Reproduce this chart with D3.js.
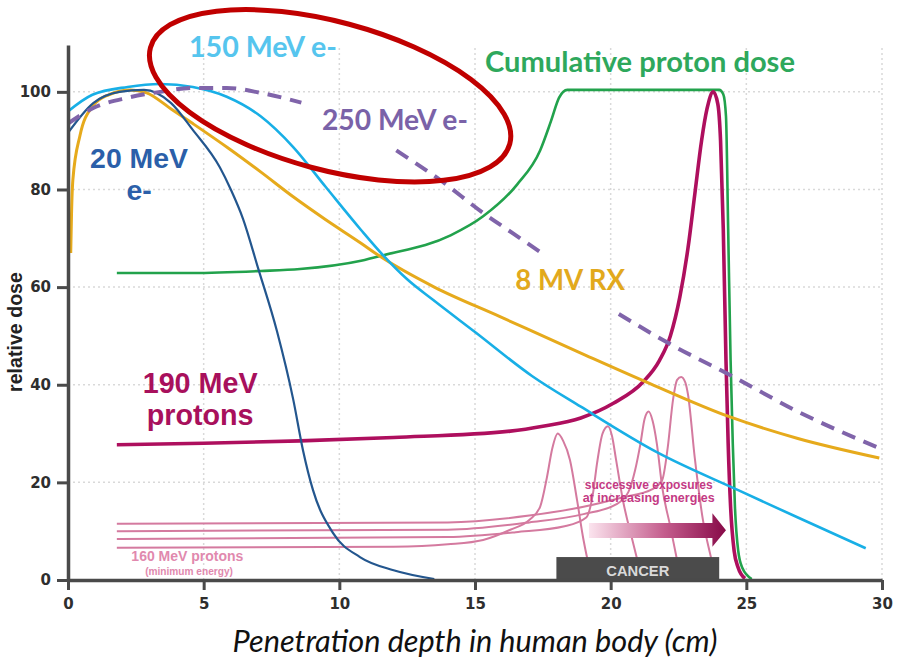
<!DOCTYPE html>
<html>
<head>
<meta charset="utf-8">
<script src="https://d3js.org/d3.v7.min.js"></script>
<style>
  body { margin: 0; background: #fff; }
  svg { display: block; }
</style>
</head>
<body>
<svg id="chart" width="897" height="659"></svg>
<script>
// Axis ticks
var xTicks = [0, 5, 10, 15, 20, 25, 30];
var yTicks = [0, 20, 40, 60, 80, 100];

// Depth-dose curves, [depth (cm), relative dose]
var electrons20 = [[0, 91.6], [0.93, 97.7], [1.9, 100], [2.8, 100.4], [3.8, 97.7], [4.6, 92.2], [5.6, 84.5],
  [6, 80], [6.45, 74], [7, 64], [7.7, 51], [8.3, 37], [8.66, 26.6], [9.03, 18.4], [9.77, 9.6], [10.76, 4.7],
  [12, 2], [13.5, 0.2]];

var electrons150 = [[0, 96], [0.9, 99.4], [2.2, 101], [3.4, 101.6], [4.6, 101], [5.85, 99], [7.1, 95],
  [8.3, 88.7], [9.5, 80.5], [10.8, 71.7], [11.6, 66.6], [12.5, 61.6], [13.45, 57.4], [15, 50.8], [17.1, 41.8],
  [18.9, 35.5], [21.7, 26.2], [24.7, 18.4], [26.9, 12.8], [29.4, 6.5]];

// null = break in the dashed line (hidden behind the labels)
var electrons250 = [[0, 93.5], [0.93, 96.7], [2.2, 98.8], [3.4, 100], [4.6, 100.8], [5.85, 100.8], [7.1, 99.8],
  [8.6, 97.8], null,
  [12.1, 88], [13.7, 82], [15.3, 75.2], [16.4, 71], [17.4, 67.2], null,
  [20.3, 54.5], [22.3, 48], [24.4, 42], [26.9, 34.5], [29.9, 27]];

var xray8 = [[0.1, 67], [0.13, 75], [0.18, 82], [0.44, 91], [0.9, 97], [1.5, 99.4], [2.3, 100.4], [2.9, 99.8],
  [3.8, 96.5], [4.6, 93.5], [5.9, 88.5], [7.1, 83.6], [8.3, 78.5], [9.5, 73.8], [10.8, 69], [11.5, 66.3],
  [13.5, 60], [15.9, 54], [18.9, 46.5], [21.3, 40.6], [24.4, 33.4], [26.9, 29], [29.9, 25]];

var protons190 = [[1.8, 27.7], [5, 28], [8.55, 28.5], [12, 29.2], [16.3, 30.5], [17.5, 31.5], [18.9, 33.2],
  [20.1, 36.2], [21.2, 40.6], [21.8, 45], [22.2, 50], [22.55, 58], [22.85, 68], [23.1, 79], [23.35, 90],
  [23.55, 96.5], [23.78, 100], [23.95, 97.5], [24.05, 90], [24.15, 72], [24.25, 45], [24.33, 28],
  [24.42, 15], [24.55, 6], [24.7, 2.5], [24.95, 0.3]];

var cumulative = [[1.8, 62.9], [4.6, 62.9], [7.1, 63.3], [8.55, 63.7], [10.8, 65.4], [11.6, 66.5], [14.1, 70.6],
  [15.3, 74.5], [16.55, 81], [17.4, 88], [17.8, 94], [18.1, 98.8], [18.4, 100.4], [24, 100.4], [24.15, 99.5],
  [24.25, 95], [24.33, 72], [24.42, 45], [24.5, 28], [24.58, 15], [24.7, 6], [24.85, 2.5], [25.2, 0.2]];

// Successive proton exposures (160 MeV minimum energy and up)
var exposure1 = [[1.8, 6.6], [12, 6.8], [14, 7.3], [15.3, 8.2], [16.3, 10.3], [17, 12.3], [17.4, 15], [17.65, 21],
  [17.85, 27], [18.05, 30], [18.25, 28.5], [18.5, 24.6], [18.76, 16.4], [19, 8.2], [19.2, 3], [19.4, 0]];
var exposure2 = [[1.8, 8.4], [14, 8.8], [16.5, 9.8], [18.3, 11], [19.1, 12.8], [19.35, 17.8], [19.5, 24],
  [19.7, 30], [19.9, 31.5], [20.05, 29.5], [20.2, 24.6], [20.45, 16.4], [20.8, 8.2], [21.1, 2], [21.3, 0]];
var exposure3 = [[1.8, 10], [14, 10.3], [17, 11.8], [19, 13.5], [20.2, 15.5], [20.65, 18], [20.9, 22.5],
  [21.1, 28], [21.25, 33], [21.4, 34.5], [21.55, 32.5], [21.7, 28], [21.9, 19], [22.2, 10.9], [22.45, 4],
  [22.6, 0]];
var exposure4 = [[1.8, 11.5], [14, 11.8], [17, 13.2], [19, 15], [20.5, 17], [21.5, 18.5], [21.9, 20.5],
  [22.1, 27], [22.3, 37], [22.45, 41], [22.6, 41.6], [22.75, 40.5], [22.85, 38], [23.1, 25], [23.4, 12.3],
  [23.66, 5.5], [23.9, 0]];

// Tumour region (cm) and arrow outline (cm, dose units)
var cancerRange = [18, 24];
var cancerHeight = 4.7;
var arrowOutline = [[19.2, 8.6], [23.75, 8.6], [23.75, 6.8], [24.25, 10.2], [23.75, 13.7], [23.75, 11.7], [19.2, 11.7]];

// Texts
var seriesLabels = ["150 MeV e-", "250 MeV e-", "Cumulative proton dose", "8 MV RX"];
var twoLineLabels = [["20 MeV", "e-"], ["190 MeV", "protons"]];
var noteLines = ["160 MeV protons", "(minimum energy)", "successive exposures", "at increasing energies", "CANCER"];
var xTitle = "Penetration depth in human body (cm)";
var yTitle = "relative dose";

// ---- layout ----
var svg = d3.select("#chart");
var yTop = 109.6;
var x = d3.scaleLinear().domain([0, 30]).range([68, 882]);
var y = d3.scaleLinear().domain([0, yTop]).range([580, 45]);

var sans = "'Liberation Sans', Arial, sans-serif";
var calibri = "Lato, 'Open Sans', sans-serif";

function fit(t, w) {
  var len = t.node().getComputedTextLength();
  var fs = parseFloat(t.attr("font-size"));
  t.attr("font-size", (fs * w / len).toFixed(2));
}

// grid
var grid = svg.append("g").attr("class", "grid")
  .attr("stroke", "#d9d9d9").attr("stroke-width", 1.5).attr("stroke-dasharray", "2,3");
grid.selectAll(".gx").data(xTicks.slice(1)).enter().append("line")
  .attr("x1", d => x(d)).attr("x2", d => x(d)).attr("y1", y(0)).attr("y2", y(yTop));
grid.selectAll(".gy").data(yTicks.slice(1)).enter().append("line")
  .attr("x1", x(0)).attr("x2", x(30)).attr("y1", d => y(d)).attr("y2", d => y(d));

var line = d3.line()
  .defined(d => d !== null)
  .x(d => x(d[0]))
  .y(d => y(d[1]))
  .curve(d3.curveMonotoneX);

// successive exposures (thin pink)
svg.append("g").selectAll("path")
  .data([exposure1, exposure2, exposure3, exposure4])
  .enter().append("path")
  .attr("d", line)
  .attr("fill", "none")
  .attr("stroke", "#d47a9f")
  .attr("stroke-width", 2);

// cancer box
svg.append("rect")
  .attr("x", x(cancerRange[0]))
  .attr("y", y(cancerHeight))
  .attr("width", x(cancerRange[1]) - x(cancerRange[0]))
  .attr("height", y(0) - y(cancerHeight))
  .attr("fill", "#4b4b4b");
var cancerText = svg.append("text")
  .attr("x", x((cancerRange[0] + cancerRange[1]) / 2))
  .attr("y", y(0.8))
  .attr("text-anchor", "middle")
  .attr("font-family", sans).attr("font-weight", "bold").attr("font-size", 13)
  .attr("fill", "#d9d9d9")
  .text(noteLines[4]);
fit(cancerText, 63);

// arrow with gradient
var defs = svg.append("defs");
var grad = defs.append("linearGradient").attr("id", "arrowGrad")
  .attr("x1", "0%").attr("x2", "100%").attr("y1", "0%").attr("y2", "0%");
grad.append("stop").attr("offset", "0%").attr("stop-color", "#fbe4ee");
grad.append("stop").attr("offset", "55%").attr("stop-color", "#c45d8d");
grad.append("stop").attr("offset", "100%").attr("stop-color", "#870a48");
svg.append("path")
  .attr("d", d3.line().x(d => x(d[0])).y(d => y(d[1]))(arrowOutline) + "Z")
  .attr("fill", "url(#arrowGrad)");

// notes
var noteStyle = [
  { i: 0, x: 4.4, y: 3.8, w: 112, size: 12, color: "#e189ae" },
  { i: 1, x: 4.46, y: 1.1, w: 88, size: 9.5, color: "#e189ae" },
  { i: 2, x: 21.4, y: 18.7, w: 128, size: 11, color: "#c43a84" },
  { i: 3, x: 21.4, y: 15.9, w: 132, size: 11, color: "#c43a84" }
];
noteStyle.forEach(function (n) {
  var t = svg.append("text")
    .attr("x", x(n.x)).attr("y", y(n.y))
    .attr("text-anchor", "middle")
    .attr("font-family", sans).attr("font-weight", "bold").attr("font-size", n.size)
    .attr("fill", n.color)
    .text(noteLines[n.i]);
  fit(t, n.w);
});

// main curves
var curves = [
  { data: cumulative, color: "#22a24c", width: 2.6 },
  { data: protons190, color: "#ae0f5e", width: 3.6 },
  { data: xray8, color: "#e6aa1c", width: 3 },
  { data: electrons150, color: "#18afe6", width: 2.6 },
  { data: electrons20, color: "#23568e", width: 2.2 }
];
svg.append("g").selectAll("path")
  .data(curves)
  .enter().append("path")
  .attr("d", d => line(d.data))
  .attr("fill", "none")
  .attr("stroke", d => d.color)
  .attr("stroke-width", d => d.width);

svg.append("path")
  .attr("d", line(electrons250))
  .attr("fill", "none")
  .attr("stroke", "#8064aa")
  .attr("stroke-width", 4)
  .attr("stroke-dasharray", "14,9");

// axes
var xAxis = d3.axisBottom(x).tickValues(xTicks).tickSize(10).tickSizeOuter(0).tickPadding(8);
var yAxis = d3.axisLeft(y).tickValues(yTicks).tickSize(11).tickSizeOuter(0).tickPadding(6);

var gx = svg.append("g").attr("transform", "translate(0," + y(0) + ")").call(xAxis);
var gy = svg.append("g").attr("transform", "translate(" + x(0) + ",0)").call(yAxis);
[gx, gy].forEach(function (g) {
  g.select(".domain").attr("stroke", "#4a4a4a").attr("stroke-width", 3.5);
  g.selectAll(".tick line").attr("stroke", "#4a4a4a").attr("stroke-width", 3);
  g.selectAll(".tick text")
    .attr("font-family", "'DejaVu Sans', sans-serif")
    .attr("font-weight", "bold")
    .attr("font-size", 15)
    .attr("fill", "#2e2e2e");
});

// red highlight ellipse
svg.append("ellipse")
  .attr("cx", 0).attr("cy", 0)
  .attr("rx", 186).attr("ry", 74)
  .attr("transform", "translate(" + x(9.66) + "," + y(99.2) + ") rotate(15)")
  .attr("fill", "none")
  .attr("stroke", "#c00000")
  .attr("stroke-width", 5);

// series labels
var labelStyle = [
  { i: 0, x: 4.46, y: 107.2, w: 148, color: "#56c5ee" },
  { i: 1, x: 9.36, y: 92.2, w: 146, color: "#7a62a8" },
  { i: 2, x: 15.37, y: 104.1, w: 310, color: "#2ea85c" },
  { i: 3, x: 16.48, y: 59.4, w: 110, color: "#e2a91d" }
];
labelStyle.forEach(function (l) {
  var t = svg.append("text")
    .attr("x", x(l.x)).attr("y", y(l.y))
    .attr("font-family", calibri).attr("font-weight", "bold").attr("font-size", 26)
    .attr("fill", l.color)
    .text(seriesLabels[l.i]);
  fit(t, l.w);
});

var twoLineStyle = [
  { i: 0, x: 2.62, y1: 84.4, y2: 77.9, w: 98, color: "#2b5fa9" },
  { i: 1, x: 4.87, y1: 38.3, y2: 31.8, w: 115, color: "#a8105c" }
];
twoLineStyle.forEach(function (l) {
  var t = svg.append("text")
    .attr("x", x(l.x)).attr("y", y(l.y1))
    .attr("text-anchor", "middle")
    .attr("font-family", sans).attr("font-weight", "bold").attr("font-size", 27)
    .attr("fill", l.color)
    .text(twoLineLabels[l.i][0]);
  fit(t, l.w);
  svg.append("text")
    .attr("x", x(l.x)).attr("y", y(l.y2))
    .attr("text-anchor", "middle")
    .attr("font-family", sans).attr("font-weight", "bold").attr("font-size", t.attr("font-size"))
    .attr("fill", l.color)
    .text(twoLineLabels[l.i][1]);
});

// axis titles
var yt = svg.append("text")
  .attr("transform", "translate(22," + y(50.8) + ") rotate(-90)")
  .attr("text-anchor", "middle")
  .attr("font-family", sans).attr("font-weight", "bold").attr("font-size", 18)
  .attr("fill", "#222")
  .text(yTitle);
fit(yt, 120);

var xt = svg.append("text")
  .attr("x", 475).attr("y", 652)
  .attr("text-anchor", "middle")
  .attr("font-family", calibri).attr("font-style", "italic").attr("font-size", 26)
  .attr("fill", "#111")
  .text(xTitle);
fit(xt, 485);
</script>
</body>
</html>
